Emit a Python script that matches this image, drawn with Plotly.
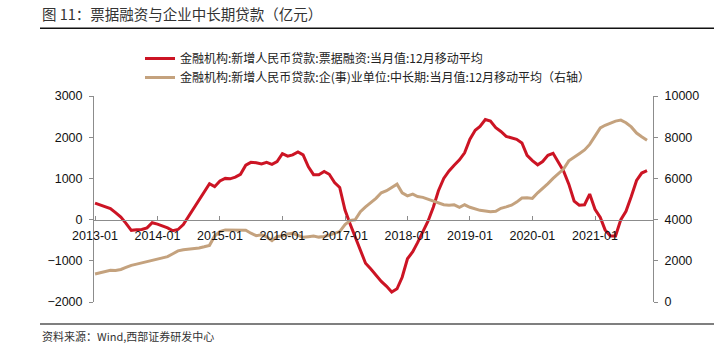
import pandas as pd
import plotly.graph_objects as go

# ---- data (monthly, 2013-01 .. 2021-11) ----
red_name = "金融机构:新增人民币贷款:票据融资:当月值:12月移动平均"
tan_name = "金融机构:新增人民币贷款:企(事)业单位:中长期:当月值:12月移动平均（右轴）"

bill_financing = [
    400, 350, 320, 270, 170, 60, -90, -260, -245, -240, -200, -75,
    -110, -160, -200, -270, -240, -120, 80, 290, 490, 690, 870, 800,
    940, 1000, 990, 1030, 1100, 1320, 1390, 1380, 1350, 1390, 1340, 1410,
    1600, 1540, 1570, 1640, 1570, 1280, 1090, 1090, 1170, 1100, 900, 780,
    230, -120, -420, -750, -1060, -1200, -1350, -1500, -1620, -1760, -1680, -1400,
    -950, -780, -560, -280, -40, 300, 700, 1000, 1180, 1320, 1450, 1620,
    1950, 2170, 2260, 2430, 2390, 2230, 2140, 2020, 1990, 1950, 1860, 1560,
    1430, 1330, 1410, 1560, 1610, 1400, 1180, 860, 450, 350, 360, 620,
    250, 50, -250, -400, -400, 0, 200, 560, 950, 1130, 1190,
]
mid_long_term = [
    1360, 1430, 1500, 1540, 1530, 1580, 1680, 1780, 1840, 1900, 1930, 2000,
    2080, 2150, 2200, 2340, 2480, 2540, 2560, 2590, 2620, 2680, 2750, 3200,
    3420, 3500, 3500, 3470, 3490, 3480, 3340, 3220, 3260, 3160, 2980, 3180,
    3200, 3300, 3330, 3240, 3140, 3170, 3200, 3150, 3180, 3250, 3330, 3420,
    3760, 3960, 3990, 4380, 4620, 4820, 5030, 5300, 5400, 5560, 5720, 5300,
    5150, 5240, 5120, 5080, 5000, 4880, 4800, 4720, 4700, 4720, 4600, 4720,
    4600, 4520, 4450, 4420, 4380, 4400, 4550, 4620, 4700, 4850, 5050, 5060,
    5030, 5300, 5500, 5750, 6000, 6250, 6450, 6850, 7050, 7200, 7380, 7650,
    8050, 8450, 8580, 8680, 8780, 8830, 8700, 8500, 8200, 8020, 7850,
]
months = pd.date_range("2013-01-01", periods=len(bill_financing), freq="MS")

left_ticks = [-2000, -1000, 0, 1000, 2000, 3000]
right_ticks = [0, 2000, 4000, 6000, 8000, 10000]
right_labels = ["0", "2000", "4000", "6000", "8000", "10000"]

# ---- layout helpers (pixel -> paper) ----
W, H = 723, 355
L, R, T, B = 94, 653, 96, 302
def px_x(x):
    return (x - L) / (R - L)
def px_y(y):
    return (B - y) / (B - T)

RED = "#CC1424"
TAN = "#C4A27E"
AX = "#8C8C8C"
CJK = "Noto Sans CJK SC"
NUM = "Liberation Sans"

fig = go.Figure()
fig.add_trace(go.Scatter(x=months, y=mid_long_term, name=tan_name, mode="lines",
                         line=dict(color=TAN, width=3), yaxis="y2"))
fig.add_trace(go.Scatter(x=months, y=bill_financing, name=red_name, mode="lines",
                         line=dict(color=RED, width=3), yaxis="y"))

fig.update_layout(
    width=W, height=H,
    margin=dict(l=L, r=W - R, t=T, b=H - B, pad=0, autoexpand=False),
    paper_bgcolor="white", plot_bgcolor="white",
    showlegend=True,
    legend=dict(x=px_x(140), y=px_y(44), xanchor="left", yanchor="top",
                font=dict(family=CJK, size=12, color="#222"),
                bgcolor="rgba(0,0,0,0)", traceorder="reversed",
                tracegroupgap=0),
    xaxis=dict(type="date", range=["2012-12-26", "2021-12-06"],
               tick0="2013-01-01", dtick="M12", tickformat="%Y-%m",
               anchor="free", position=0.4,
               showline=True, linecolor=AX, linewidth=1,
               ticks="inside", ticklen=4, tickcolor=AX,
               showgrid=False, zeroline=False,
               tickfont=dict(family=NUM, size=12.5, color="#111"),
               ticklabelstandoff=4),
    yaxis=dict(range=[-2000, 3000], tickvals=left_ticks,
               showline=True, linecolor=AX, linewidth=1,
               ticks="outside", ticklen=4, tickcolor=AX,
               showgrid=False, zeroline=False,
               tickfont=dict(family=NUM, size=12.5, color="#111"),
               ticklabelstandoff=4),
    yaxis2=dict(range=[0, 10000], tickvals=right_ticks, ticktext=right_labels,
                overlaying="y", side="right",
                showline=True, linecolor=AX, linewidth=1,
                ticks="outside", ticklen=4, tickcolor=AX,
                showgrid=False, zeroline=False,
                tickfont=dict(family=NUM, size=12.5, color="#111"),
                ticklabelstandoff=4),
)

fig.add_annotation(text="图 11：票据融资与企业中长期贷款（亿元）", xref="paper", yref="paper",
                   x=px_x(40), y=px_y(13.5), xanchor="left", yanchor="middle",
                   showarrow=False, font=dict(family=CJK, size=14.5, color="#333"))
fig.add_annotation(text="资料来源：Wind,西部证券研发中心", xref="paper", yref="paper",
                   x=px_x(40), y=px_y(336), xanchor="left", yanchor="middle",
                   showarrow=False, font=dict(family=CJK, size=11, color="#333"))
fig.add_shape(type="line", xref="paper", yref="paper",
              x0=px_x(40), x1=px_x(714), y0=px_y(28.3), y1=px_y(28.3),
              line=dict(color="#111", width=1.5))
fig.add_shape(type="line", xref="paper", yref="paper",
              x0=px_x(40), x1=px_x(714), y0=px_y(324), y1=px_y(324),
              line=dict(color="#555", width=1.5))

fig.write_html("out.html",
               config={"displayModeBar": False, "staticPlot": True},
               post_script="document.body.style.margin='0px';document.body.style.overflow='hidden';")
